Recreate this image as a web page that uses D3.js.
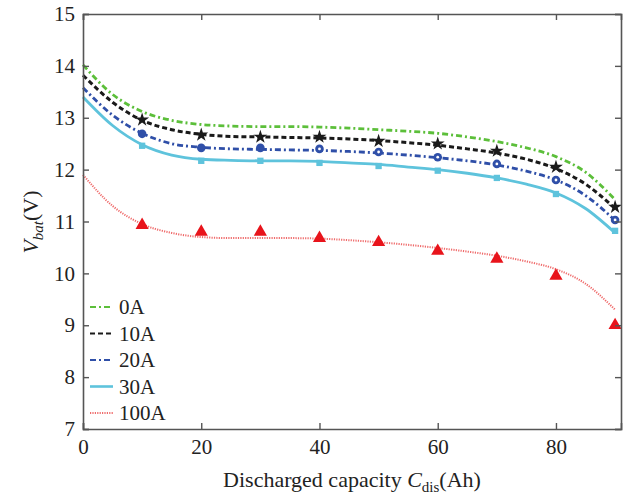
<!DOCTYPE html>
<html>
<head>
<meta charset="utf-8">
<script src="https://cdn.jsdelivr.net/npm/d3@7"></script>
<style>
  body { margin: 0; background: #fff; }
</style>
</head>
<body>
<svg id="chart" width="638" height="496"></svg>
<script>
// curve sample positions (Ah) and marker positions (Ah)
const curveX = [0, 5, 10, 15, 20, 25, 30, 35, 40, 45, 50, 55, 60, 65, 70, 75, 80, 85, 90];
const markX = [10, 20, 30, 40, 50, 60, 70, 80, 90];

const curve0A = [14.02, 13.45, 13.12, 12.95, 12.87, 12.84, 12.83, 12.83, 12.82, 12.8, 12.77, 12.74, 12.7, 12.63, 12.54, 12.42, 12.25, 11.95, 11.42];
const curve10A = [13.82, 13.3, 12.95, 12.77, 12.68, 12.64, 12.63, 12.62, 12.61, 12.59, 12.56, 12.52, 12.47, 12.4, 12.32, 12.2, 12.02, 11.72, 11.25];
const curve20A = [13.58, 13.05, 12.7, 12.5, 12.43, 12.4, 12.39, 12.38, 12.37, 12.35, 12.32, 12.28, 12.23, 12.17, 12.09, 11.97, 11.8, 11.5, 11.02];
const curve30A = [13.4, 12.85, 12.48, 12.28, 12.2, 12.18, 12.17, 12.17, 12.16, 12.13, 12.1, 12.05, 12.0, 11.93, 11.84, 11.72, 11.55, 11.25, 10.78];
const curve100A = [11.9, 11.3, 10.95, 10.78, 10.7, 10.68, 10.68, 10.68, 10.67, 10.64, 10.6, 10.55, 10.49, 10.42, 10.34, 10.23, 10.08, 9.8, 9.3];

const marks10A = [12.96, 12.67, 12.63, 12.63, 12.55, 12.5, 12.36, 12.05, 11.28];
const marks20A = [12.69, 12.42, 12.42, 12.4, 12.34, 12.24, 12.11, 11.8, 11.03];
const marks30A = [12.46, 12.17, 12.17, 12.13, 12.07, 11.98, 11.84, 11.53, 10.82];
const marks100A = [10.93, 10.8, 10.8, 10.68, 10.6, 10.43, 10.28, 9.95, 9.0];

const xTicks = [0, 20, 40, 60, 80];
const yTicks = [7, 8, 9, 10, 11, 12, 13, 14, 15];

const series = [
  { name: '0A', curve: curve0A, marks: null, color: '#5cbf3a', dash: '6,3,2,3', width: 2.8, symbol: null },
  { name: '10A', curve: curve10A, marks: marks10A, color: '#1a1a1a', dash: '5,3', width: 3, symbol: 'star' },
  { name: '20A', curve: curve20A, marks: marks20A, color: '#2f4fa8', dash: '6,3,2,3', width: 2.8, symbol: 'circle' },
  { name: '30A', curve: curve30A, marks: marks30A, color: '#5ec3dc', dash: null, width: 2.8, symbol: 'square' },
  { name: '100A', curve: curve100A, marks: marks100A, color: '#ef6b6b', dash: '1.2,1.2', width: 2, symbol: 'triangle' }
];

const FONT = 'Liberation Serif';
const svg = d3.select('#chart').attr('font-family', FONT);
const x = d3.scaleLinear().domain([0, 91]).range([83, 621]);
const y = d3.scaleLinear().domain([7, 15]).range([429, 14]);

const plot = svg.append('g');

// curves
const line = d3.line()
  .x((d, i) => x(curveX[i]))
  .y(d => y(d))
  .curve(d3.curveMonotoneX);

series.forEach(s => {
  plot.append('path')
    .attr('d', line(s.curve))
    .attr('fill', 'none')
    .attr('stroke', s.color)
    .attr('stroke-width', s.width)
    .attr('stroke-dasharray', s.dash);
});

// markers
const symbols = {
  star: d3.symbol().type(d3.symbolStar).size(60),
  square: d3.symbol().type(d3.symbolSquare).size(40),
  triangle: d3.symbol().type(d3.symbolTriangle).size(75)
};

series.forEach(s => {
  if (!s.marks) return;
  const g = plot.append('g');
  s.marks.forEach((v, i) => {
    const cx = x(markX[i]), cy = y(v);
    if (s.symbol === 'circle') {
      g.append('circle').attr('cx', cx).attr('cy', cy).attr('r', 4.3).attr('fill', s.color);
      if (i >= 3) g.append('circle').attr('cx', cx).attr('cy', cy).attr('r', 1.4).attr('fill', '#fff');
    } else {
      g.append('path')
        .attr('d', symbols[s.symbol]())
        .attr('transform', `translate(${cx},${cy})`)
        .attr('fill', s.symbol === 'triangle' ? '#e8141b' : s.color);
    }
  });
});

// axes (inward ticks on all sides)
const axisColor = '#555';
const axBottom = svg.append('g').attr('transform', `translate(0,${y(7)})`)
  .call(d3.axisBottom(x).tickValues(xTicks).tickSize(-6).tickPadding(10).tickFormat(d3.format('d')));
const axTop = svg.append('g').attr('transform', `translate(0,${y(15)})`)
  .call(d3.axisTop(x).tickValues(xTicks).tickSize(-6).tickFormat(''));
const axLeft = svg.append('g').attr('transform', `translate(${x(0)},0)`)
  .call(d3.axisLeft(y).tickValues(yTicks).tickSize(-6).tickPadding(8).tickFormat(d3.format('d')));
const axRight = svg.append('g').attr('transform', `translate(${x(91)},0)`)
  .call(d3.axisRight(y).tickValues(yTicks).tickSize(-6).tickFormat(''));

[axBottom, axTop, axLeft, axRight].forEach(a => {
  a.attr('font-family', FONT);
  a.select('.domain').attr('stroke', axisColor).attr('stroke-width', 1.6);
  a.selectAll('.tick line').attr('stroke', axisColor).attr('stroke-width', 1.4);
  a.selectAll('.tick text').attr('font-size', 21).attr('font-family', FONT).attr('fill', '#222');
});

// legend
const legend = svg.append('g');
series.forEach((s, i) => {
  const ly = 307 + i * 26.5;
  legend.append('line')
    .attr('x1', 90).attr('x2', 113).attr('y1', ly).attr('y2', ly)
    .attr('stroke', s.color)
    .attr('stroke-width', s.name === '30A' ? 2.6 : 2.2)
    .attr('stroke-dasharray', s.dash);
  legend.append('text')
    .attr('x', 119).attr('y', ly + 7)
    .attr('font-family', FONT)
    .attr('font-size', 21)
    .attr('fill', '#222')
    .text(s.name);
});

// axis titles
svg.append('text')
  .attr('x', 352).attr('y', 487)
  .attr('text-anchor', 'middle')
  .attr('font-family', FONT)
  .attr('font-size', 22)
  .attr('fill', '#222')
  .call(t => {
    t.append('tspan').text('Discharged capacity ');
    t.append('tspan').attr('font-style', 'italic').text('C');
    t.append('tspan').attr('font-size', 15).attr('dy', 5).text('dis');
    t.append('tspan').attr('dy', -5).text('(Ah)');
  });

svg.append('text')
  .attr('transform', 'translate(38,222) rotate(-90)')
  .attr('text-anchor', 'middle')
  .attr('font-family', FONT)
  .attr('font-size', 22)
  .attr('fill', '#222')
  .call(t => {
    t.append('tspan').attr('font-style', 'italic').text('V');
    t.append('tspan').attr('font-style', 'italic').attr('font-size', 15).attr('dy', 5).text('bat');
    t.append('tspan').attr('dy', -5).text('(V)');
  });
</script>
</body>
</html>
